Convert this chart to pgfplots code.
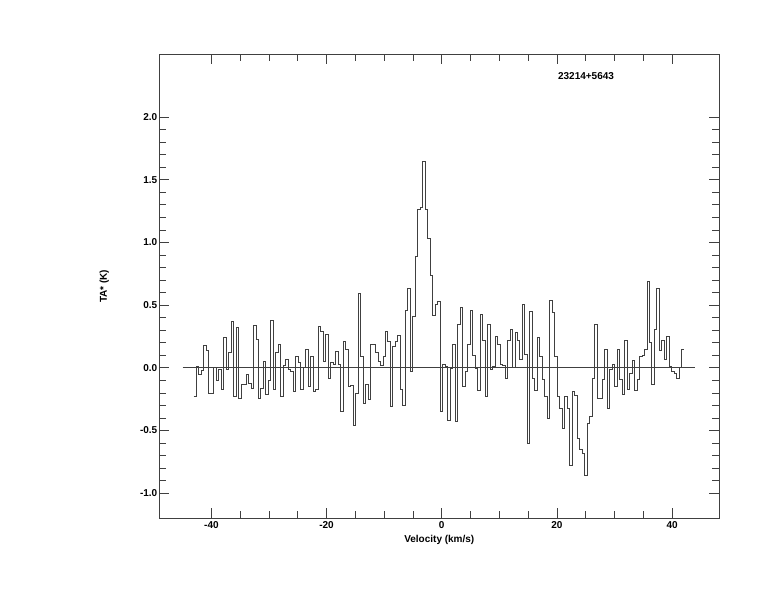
\documentclass[border=0pt]{standalone}
\usepackage{pgfplots}
\pgfplotsset{compat=1.18}
\usepackage{pgfplotstable}
\usepackage{fontspec}
\setmainfont{Liberation Sans}

% antenna temperature per channel (channel 1 starts at -43.1 km/s)
\pgfplotstableread{
ta
-0.23
0.01
-0.05
-0.02
0.18
0.14
-0.20
-0.20
0.00
-0.10
-0.01
-0.17
0.24
-0.01
0.12
0.37
-0.23
0.32
-0.24
-0.13
-0.13
-0.05
-0.12
-0.16
0.34
0.23
-0.24
-0.16
0.05
-0.21
-0.10
0.38
-0.17
0.12
0.19
-0.23
0.02
0.07
-0.01
-0.03
-0.19
0.09
0.04
-0.17
0.00
0.15
-0.15
0.09
-0.19
-0.17
0.33
0.29
0.05
0.27
-0.08
0.04
0.03
0.13
0.03
-0.35
0.21
0.15
-0.15
-0.14
-0.46
-0.20
0.59
0.09
-0.28
-0.13
-0.25
0.19
0.19
0.12
0.05
0.02
0.09
0.29
0.21
-0.31
0.17
0.21
0.26
-0.17
-0.30
0.46
0.63
-0.03
0.41
0.89
1.26
1.28
1.65
1.26
1.03
0.74
0.42
0.51
0.53
-0.35
0.03
0.01
-0.42
-0.005
0.19
-0.43
0.35
0.48
-0.15
-0.03
0.19
0.46
0.10
-0.005
-0.18
0.43
0.22
-0.23
0.35
-0.01
0.01
0.25
0.19
0.03
0.02
-0.08
0.22
0.31
0.00
0.28
0.22
0.07
0.51
0.11
-0.60
0.45
-0.08
-0.18
0.24
0.09
-0.09
-0.23
-0.40
0.54
0.44
0.09
-0.23
-0.32
-0.48
-0.23
-0.32
-0.78
-0.19
-0.22
-0.56
-0.65
-0.68
-0.86
-0.44
-0.39
-0.08
0.35
-0.24
-0.24
-0.09
0.15
-0.32
-0.01
0.03
-0.15
0.15
-0.09
-0.21
0.22
-0.17
-0.04
0.06
-0.18
-0.09
0.09
0.10
0.15
0.69
0.20
-0.13
0.31
0.63
0.14
0.22
0.07
0.25
0.01
-0.03
-0.04
-0.08
0.00
0.15
0.15
}\spec

\begin{document}
\begin{tikzpicture}
\path (0,0) rectangle (774bp,612bp);
\begin{axis}[
    at={(159.3bp,93.7bp)}, anchor=south west,
    scale only axis, width=560bp, height=464bp,
    xmin=-49.05, xmax=48.2,
    ymin=-1.2, ymax=2.5,
    xtick={-40,-20,0,20,40}, minor x tick num=3,
    ytick={-1,-0.5,0,0.5,1,1.5,2}, minor y tick num=4,
    tick align=inside, xtick pos=both, ytick pos=both,
    major tick length=10bp, minor tick length=7bp,
    axis line style={black!75, line width=0.65bp},
    every tick/.style={black!75, line width=0.65bp},
    /pgf/number format/assume math mode=true,
    tick label style={font=\fontsize{10bp}{12bp}\selectfont\bfseries},
    xticklabel style={inner sep=0pt, anchor=north, yshift=-3.5bp},
    yticklabel style={inner sep=0pt, anchor=east, xshift=-1.8bp,
        /pgf/number format/.cd, fixed, fixed zerofill, precision=1},
    label style={font=\fontsize{10bp}{12bp}\selectfont\bfseries},
    xlabel={Velocity (km/s)},
    xlabel style={at={([yshift=-22bp]rel axis cs:0.5,0)}, anchor=center},
    ylabel={TA* (K)},
    ylabel style={at={([xshift=-55bp]rel axis cs:0,0.5)}, anchor=center},
    clip=false,
]
\addplot[black!75, line width=0.65bp, const plot] table[x expr=\coordindex*0.4325-43.1, y=ta] {\spec};
\addplot[black!75, line width=0.65bp] coordinates {(-45.0,0) (43.9,0)};
\node[font=\fontsize{10bp}{12bp}\selectfont\bfseries] at (rel axis cs:0.762,0.953) {23214+5643};
\end{axis}
\end{tikzpicture}
\end{document}
